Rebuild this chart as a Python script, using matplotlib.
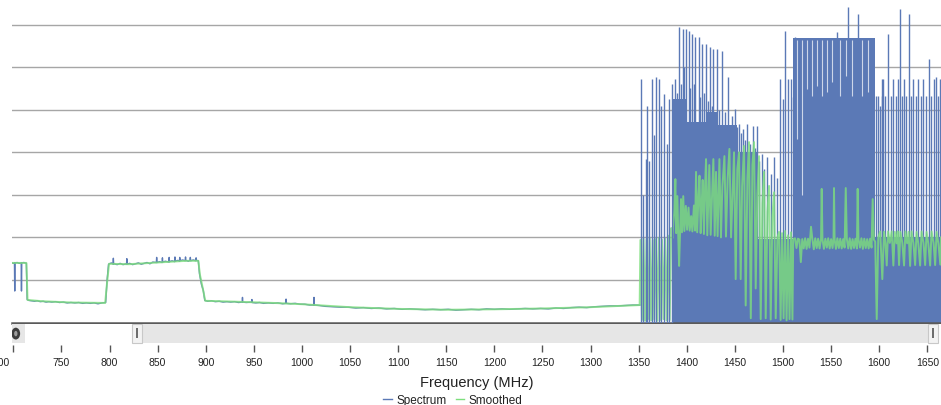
#!/usr/bin/env python3
"""Wideband sweep 700-1660 MHz: raw spectrum, smoothed trace and range-selector strip."""

import matplotlib

matplotlib.use("Agg")
import matplotlib.pyplot as plt
from matplotlib.lines import Line2D
from matplotlib.patches import Ellipse, Rectangle
from matplotlib.transforms import ScaledTranslation

plt.rcParams["font.family"] = ["Liberation Sans", "DejaVu Sans"]

BLUE = "#5b79b6"
GREEN = "#7ddf7d"
FLOOR = -101.0  # below the visible range, bursts start here
BURST_EDGE = 1385.0  # carriers below this are drawn over the smoothed stripes

# quiet band (raw spectrum), MHz / dB
quiet_freq = [
    698.7, 700.5, 701.2, 701.5, 701.8, 704.0, 706.0, 708.2, 708.5, 708.8,
    711.0, 713.6, 714.4, 716.0, 719.0, 722.0, 725.0, 728.0, 731.0, 734.0,
    737.0, 740.0, 744.0, 748.0, 752.0, 756.0, 760.0, 764.0, 768.0, 772.0,
    776.0, 780.0, 784.0, 788.0, 792.0, 796.0, 797.5, 799.0, 802.0, 803.7,
    804.0, 804.3, 808.0, 811.0, 814.0, 817.7, 818.0, 818.3, 821.0, 824.0,
    827.0, 830.0, 833.0, 836.0, 839.0, 842.0, 845.0, 848.7, 849.0, 849.3,
    852.0, 854.7, 855.0, 855.3, 858.0, 861.7, 862.0, 862.3, 865.0, 867.7,
    868.0, 868.3, 871.0, 872.7, 873.0, 873.3, 876.0, 878.7, 879.0, 879.3,
    882.0, 883.7, 884.0, 884.3, 887.0, 889.7, 890.0, 890.3, 892.3, 893.5,
    895.5, 897.5, 899.0, 902.0, 906.0, 910.0, 914.0, 918.0, 922.0, 926.0,
    930.0, 934.0, 937.9, 938.2, 938.5, 942.0, 947.7, 948.0, 948.3, 952.0,
    956.0, 960.0, 965.0, 970.0, 975.0, 980.0, 983.2, 983.5, 983.8, 988.0,
    993.0, 998.0, 1003.0, 1008.0, 1012.2, 1012.5, 1012.8, 1018.0, 1024.0, 1032.0,
    1040.0, 1048.0, 1056.0, 1064.0, 1072.0, 1080.0, 1088.0, 1096.0, 1104.0, 1112.0,
    1120.0, 1128.0, 1136.0, 1144.0, 1152.0, 1160.0, 1168.0, 1176.0, 1184.0, 1192.0,
    1200.0, 1208.0, 1216.0, 1224.0, 1232.0, 1240.0, 1248.0, 1256.0, 1264.0, 1272.0,
    1280.0, 1288.0, 1296.0, 1304.0, 1312.0, 1320.0, 1328.0, 1336.0, 1344.0, 1351.2,
]
quiet_level = [
    -86.0, -86.1, -86.0, -92.6, -86.0, -85.9, -86.1, -86.0, -92.6, -86.0,
    -85.9, -86.1, -94.6, -94.8, -94.9, -95.0, -94.9, -95.1, -95.0, -95.2,
    -95.1, -95.2, -95.1, -95.3, -95.2, -95.4, -95.3, -95.4, -95.3, -95.5,
    -95.4, -95.5, -95.4, -95.6, -95.4, -95.3, -90.0, -86.3, -86.0, -86.3,
    -84.9, -86.2, -86.4, -86.1, -86.4, -86.2, -85.0, -86.3, -86.1, -86.4,
    -86.2, -86.0, -86.3, -86.1, -85.9, -86.2, -85.8, -85.9, -84.7, -85.9,
    -85.7, -85.9, -84.8, -85.8, -85.6, -85.8, -84.7, -85.7, -85.5, -85.7,
    -84.6, -85.6, -85.4, -85.6, -84.7, -85.5, -85.3, -85.5, -84.6, -85.4,
    -85.6, -85.4, -84.7, -85.5, -85.3, -85.5, -84.8, -85.4, -85.5, -88.5,
    -91.0, -92.5, -94.8, -95.0, -94.9, -95.1, -95.0, -95.2, -95.1, -95.2,
    -95.1, -95.3, -95.2, -94.1, -95.2, -95.3, -95.2, -94.6, -95.3, -95.4,
    -95.3, -95.5, -95.4, -95.5, -95.4, -95.6, -95.5, -94.5, -95.5, -95.6,
    -95.5, -95.7, -95.7, -95.9, -95.9, -94.1, -95.9, -96.0, -96.2, -96.3,
    -96.4, -96.4, -96.6, -96.5, -96.7, -96.6, -96.8, -96.7, -96.9, -96.8,
    -96.9, -97.0, -96.9, -97.0, -96.9, -97.1, -97.0, -96.9, -97.0, -96.8,
    -96.9, -96.8, -96.9, -96.8, -96.7, -96.8, -96.7, -96.8, -96.6, -96.7,
    -96.5, -96.4, -96.5, -96.3, -96.2, -96.1, -96.1, -96.0, -95.9, -95.9,
]

# occupied blocks in the burst region (raw spectrum saturates from the floor up)
block_start = [1384.6, 1399.2, 1420.0, 1431.0, 1452.0, 1473.0, 1510.4, 1595.6]
block_end = [1399.2, 1420.0, 1431.0, 1452.0, 1473.0, 1510.4, 1595.6, 1664.2]
block_top = [-47.5, -52.9, -50.5, -53.5, -60.0, -80.4, -33.2, -79.9]

# individual carriers in the burst region
spike_freq = [
    1352.4, 1354.6, 1357.6, 1358.3, 1361.0, 1363.9, 1366.0, 1368.0, 1370.8, 1373.2,
    1376.6, 1379.0, 1381.2, 1384.6, 1388.1, 1390.0, 1392.2, 1394.0, 1395.8, 1397.5,
    1399.2, 1402.0, 1403.7, 1405.4, 1407.2, 1408.9, 1412.4, 1414.0, 1415.8, 1418.0,
    1420.0, 1422.0, 1424.1, 1426.0, 1427.6, 1431.1, 1433.5, 1436.9, 1440.0, 1443.2,
    1446.5, 1449.8, 1452.0, 1454.3, 1456.5, 1458.4, 1460.5, 1462.9, 1465.5, 1468.8,
    1471.0, 1473.3, 1475.5, 1477.9, 1480.5, 1483.7, 1487.0, 1490.7, 1493.5, 1496.6,
    1499.5, 1501.8, 1505.0, 1508.0, 1510.0, 1512.2, 1555.8, 1567.9, 1577.6, 1597.0,
    1598.5, 1600.8, 1602.5, 1603.2, 1604.3, 1606.5, 1609.5, 1612.0, 1614.7, 1617.0,
    1619.9, 1621.7, 1623.5, 1625.8, 1628.0, 1631.3, 1633.0, 1635.4, 1638.0, 1640.6,
    1643.0, 1645.8, 1648.5, 1651.7, 1654.0, 1656.5, 1659.0, 1661.5, 1663.5,
]
spike_peak = [
    -42.8, -70.0, -61.6, -49.1, -62.0, -42.8, -56.0, -42.3, -42.8, -49.1,
    -46.3, -58.0, -47.5, -44.0, -42.8, -46.0, -30.6, -44.0, -31.0, -40.0,
    -31.0, -31.5, -45.0, -32.2, -44.0, -32.9, -32.9, -47.0, -34.5, -46.0,
    -34.5, -48.0, -35.3, -49.0, -35.7, -35.7, -50.0, -36.2, -50.5, -42.3,
    -51.5, -49.8, -54.0, -53.3, -55.5, -54.5, -57.0, -53.3, -58.0, -53.8,
    -59.0, -53.8, -62.0, -60.4, -64.0, -61.1, -65.0, -61.1, -66.0, -42.8,
    -47.5, -31.5, -42.8, -42.8, -47.0, -32.9, -31.8, -25.8, -27.5, -46.7,
    -46.7, -49.0, -46.7, -42.8, -42.8, -46.7, -32.2, -46.7, -42.8, -46.7,
    -42.8, -26.3, -46.7, -42.8, -46.7, -27.5, -46.7, -42.8, -46.7, -42.8,
    -46.7, -42.8, -46.7, -38.1, -46.7, -42.8, -42.3, -46.7, -42.8,
]

# unfilled notches inside the 1510-1596 MHz block
notch_freq = [1514.3, 1519.5, 1524.7, 1529.8, 1535.0, 1540.2, 1545.4, 1550.6, 1559.2, 1565.2, 1571.4, 1581.8, 1588.7]
notch_low = [-56.9, -70.0, -45.1, -46.7, -44.3, -46.7, -45.9, -43.5, -46.7, -42.0, -46.7, -46.7, -45.9]
notch_high = [-33.5] * len(notch_freq)

# smoothed trace, quiet band
smooth_quiet_freq = [
    698.7, 713.6, 714.8, 730.0, 760.0, 795.5, 797.3, 799.5, 820.0, 850.0,
    880.0, 892.3, 894.0, 896.5, 899.5, 930.0, 970.0, 1000.0, 1050.0, 1100.0,
    1150.0, 1200.0, 1250.0, 1300.0, 1351.0,
]
smooth_quiet_level = [
    -86.0, -86.0, -94.7, -95.0, -95.3, -95.4, -91.0, -86.2, -86.3, -85.9,
    -85.5, -85.5, -88.8, -91.5, -94.9, -95.1, -95.4, -95.7, -96.4, -96.8,
    -97.0, -96.9, -96.7, -96.4, -95.9,
]

# smoothed trace, burst region
smooth_burst_freq = [
    1351.8, 1353.4, 1355.0, 1356.6, 1358.2, 1359.8, 1361.4, 1363.0, 1364.6, 1366.2,
    1367.8, 1369.4, 1371.0, 1372.6, 1374.2, 1375.8, 1377.4, 1379.0, 1380.6, 1382.2,
    1383.8,
    1385.0, 1386.0, 1387.0, 1388.1, 1389.0, 1390.2, 1391.2, 1392.0, 1393.0, 1394.0,
    1395.0, 1396.3, 1397.5, 1399.0, 1400.3, 1401.8, 1403.0, 1404.5, 1405.8, 1407.4,
    1408.6, 1409.6, 1410.8, 1412.2, 1413.2, 1414.4, 1415.5, 1416.5, 1417.8, 1419.0,
    1420.0, 1421.3, 1422.5, 1423.4, 1424.8, 1426.0, 1427.6, 1429.0, 1430.4, 1432.0,
    1433.9, 1435.5, 1437.0, 1439.1, 1440.7, 1442.5, 1444.3, 1446.0, 1447.5, 1449.1,
    1450.8, 1452.5, 1454.3, 1456.0, 1457.5, 1459.5, 1461.2, 1463.0, 1464.7, 1466.5,
    1468.2, 1469.9, 1471.6, 1473.3, 1475.1, 1476.8, 1478.6, 1480.3, 1482.0, 1483.8,
    1485.5, 1487.2, 1489.0, 1490.7, 1492.4, 1494.2, 1495.9, 1497.5, 1499.0, 1500.6,
    1502.1, 1503.7, 1505.2, 1506.8, 1508.3, 1509.8,
    1510.6, 1512.5, 1514.0, 1515.5, 1517.0, 1518.5, 1520.0, 1521.5, 1523.0, 1524.5,
    1526.0, 1527.5, 1529.1, 1530.5, 1532.0, 1533.5, 1535.0, 1536.5, 1538.0, 1539.5,
    1540.2, 1541.0, 1542.5, 1544.0, 1545.5, 1547.0, 1548.5, 1550.0, 1551.5, 1552.5,
    1553.0, 1553.6, 1555.0, 1556.5, 1558.0, 1559.5, 1561.0, 1562.5, 1564.0, 1565.2,
    1566.3, 1567.8, 1569.3, 1570.8, 1572.3, 1573.8, 1575.3, 1576.8, 1577.6, 1578.4,
    1580.0, 1581.5, 1583.0, 1584.5, 1586.0, 1587.5, 1589.0, 1590.5, 1592.0, 1593.2,
    1594.4, 1595.8, 1597.4,
    1599.0, 1601.0, 1603.2, 1605.0, 1606.5, 1607.8, 1609.2, 1611.0, 1613.0, 1614.7,
    1616.2, 1618.0, 1619.2, 1620.6, 1622.0, 1624.0, 1625.8, 1627.2, 1629.0, 1630.5,
    1632.1, 1633.6, 1635.5, 1637.3, 1638.8, 1640.6, 1642.5, 1644.0, 1646.0, 1647.7,
    1649.2, 1651.0, 1652.9, 1654.4, 1656.5, 1658.1, 1659.6, 1661.5, 1663.5, 1664.2,
]
smooth_burst_level = [
    -80.6, -99.4, -80.3, -99.6, -80.5, -99.2, -80.2, -99.5, -80.6, -99.3,
    -80.4, -99.6, -80.1, -99.4, -80.5, -99.2, -80.3, -99.5, -79.6, -99.4,
    -77.8,
    -80.2, -76.5, -74.0, -66.3, -79.0, -70.3, -80.5, -86.7, -78.5, -71.0,
    -78.8, -70.3, -78.5, -72.6, -78.2, -73.0, -78.4, -75.0, -78.6, -72.5,
    -78.4, -64.6, -78.8, -70.0, -65.5, -79.0, -72.0, -66.5, -79.2, -68.0,
    -61.6, -79.5, -70.0, -63.0, -79.4, -72.0, -61.6, -79.6, -64.6, -79.7,
    -61.6, -80.0, -68.0, -60.9, -79.8, -66.0, -59.2, -80.0, -70.0, -60.0,
    -89.8, -64.0, -60.0, -89.8, -68.0, -58.5, -96.0, -66.0, -57.6, -99.0,
    -63.0, -57.6, -92.0, -70.0, -60.9, -99.2, -72.0, -64.6, -99.0, -74.0,
    -67.9, -99.3, -75.0, -69.4, -99.0, -80.0, -78.7, -99.4, -79.0, -99.0,
    -78.5, -99.5, -79.5, -99.2, -78.8, -99.3,
    -80.4, -80.2, -82.5, -80.3, -80.5, -85.8, -80.4, -82.6, -80.2, -82.7,
    -80.3, -82.4, -77.5, -80.4, -82.8, -80.2, -82.5, -80.3, -82.6, -80.4,
    -68.6, -80.4, -82.7, -80.3, -82.4, -80.2, -82.6, -80.4, -82.5, -80.3,
    -68.4, -80.4, -82.7, -80.2, -82.5, -80.3, -82.6, -80.4, -82.4, -68.4,
    -80.3, -82.6, -80.2, -82.7, -80.4, -82.5, -80.3, -82.6, -68.6, -80.4,
    -82.4, -80.2, -82.7, -80.3, -82.5, -80.4, -82.6, -80.3, -82.4, -71.0,
    -80.5, -81.0, -99.2,
    -80.0, -78.6, -89.8, -78.7, -81.4, -86.6, -78.6, -81.3, -78.6, -86.6,
    -78.7, -81.4, -78.6, -86.5, -78.7, -81.3, -86.6, -78.6, -81.4, -78.7,
    -86.7, -78.6, -81.3, -86.5, -78.7, -81.4, -86.6, -78.6, -81.3, -86.5,
    -78.7, -81.4, -86.6, -78.6, -81.3, -86.5, -78.7, -81.4, -86.4, -80.0,
]

xticks = list(range(700, 1651, 50))
grid_levels = [-90, -80, -70, -60, -50, -40, -30]

W, H = 941, 406
fig = plt.figure(figsize=(W / 100, H / 100), dpi=100)

# main plot area: x 12..941 px, y 0..323.5 px
ax = fig.add_axes([12 / W, (H - 323.5) / H, (W - 12) / W, 323.5 / H])
ax.set_xlim(698.65, 1664.2)
ax.set_ylim(-100, -23.97)
ax.set_yticks(grid_levels)
ax.yaxis.grid(True, color="#a6a6a6", lw=1.0)
ax.set_axisbelow(True)
ax.tick_params(left=False, labelleft=False, bottom=False, labelbottom=False)
for side in ("top", "right", "left"):
    ax.spines[side].set_visible(False)
ax.spines["bottom"].set_color("#5a5a5a")
ax.spines["bottom"].set_linewidth(1.8)

# raw spectrum
ax.plot(quiet_freq, quiet_level, color=BLUE, lw=1.0, zorder=2)
for s, e, t in zip(block_start, block_end, block_top):
    ax.fill_between([s, e], FLOOR, t, color=BLUE, lw=0, zorder=2)
low_f = [f for f in spike_freq if f < BURST_EDGE]
low_p = [p for f, p in zip(spike_freq, spike_peak) if f < BURST_EDGE]
high_f = [f for f in spike_freq if f >= BURST_EDGE]
high_p = [p for f, p in zip(spike_freq, spike_peak) if f >= BURST_EDGE]
ax.vlines(high_f, FLOOR, high_p, color=BLUE, lw=1.0, zorder=2)
ax.vlines(low_f, FLOOR, low_p, color=BLUE, lw=1.0, zorder=4)
ax.vlines(notch_freq, notch_low, notch_high, color="white", lw=0.8, alpha=0.7, zorder=2)

# smoothed trace
ax.plot(smooth_quiet_freq + smooth_burst_freq, smooth_quiet_level + smooth_burst_level,
        color=GREEN, lw=1.4, alpha=0.8, zorder=3)

# range selector strip with the frequency axis under it
nav = fig.add_axes([12 / W, (H - 346) / H, (W - 12) / W, 21.5 / H])
nav.set_xlim(698.65, 1664.2)
nav.set_ylim(0, 1)
for side in ("top", "right", "left", "bottom"):
    nav.spines[side].set_visible(False)
nav.tick_params(left=False, labelleft=False)
nav.add_patch(Rectangle((698.65, 0.07), 1660.2 - 698.65, 0.93, color="#e6e6e6", lw=0))
nav.add_patch(Rectangle((712.2, 0.07), 823.5 - 712.2, 0.93, color="white", lw=0))
nav.add_patch(Ellipse((702.6, 0.53), 9.0, 0.55, color="#3d3d3d", lw=0))
nav.add_patch(Ellipse((702.6, 0.53), 3.5, 0.25, color="#9c9c9c", lw=0))
for left in (823.5, 1650.5):
    nav.add_patch(Rectangle((left, 0.07), 10.4, 0.93, facecolor="#f3f3f3", edgecolor="#c8c8c8", lw=0.8))
    nav.add_patch(Rectangle((left + 4.2, 0.33), 2.0, 0.45, color="#6e6e6e", lw=0))

nav.set_xticks(xticks)
nav.set_xticklabels([str(t) for t in xticks])
nav.tick_params(axis="x", direction="out", length=5, width=1, color="#555555",
                labelsize=7.5, labelcolor="#222222", pad=3.5)
first = nav.get_xticklabels()[0]
first.set_transform(first.get_transform() + ScaledTranslation(-0.12, 0, fig.dpi_scale_trans))

fig.text((12 + W) / 2 / W, 1 - 383 / H, "Frequency (MHz)", ha="center", va="center",
         fontsize=10.5, color="#222222")

handles = [Line2D([], [], color=BLUE, lw=1.0), Line2D([], [], color=GREEN, lw=1.0)]
fig.legend(handles, ["Spectrum", "Smoothed"], loc="center", bbox_to_anchor=(453 / W, 1 - 401 / H),
           ncol=2, frameon=False, fontsize=8.5, handlelength=0.7, handletextpad=0.4,
           columnspacing=0.8, borderpad=0, borderaxespad=0, labelcolor="#222222")

fig.savefig("out.png", dpi=100)
